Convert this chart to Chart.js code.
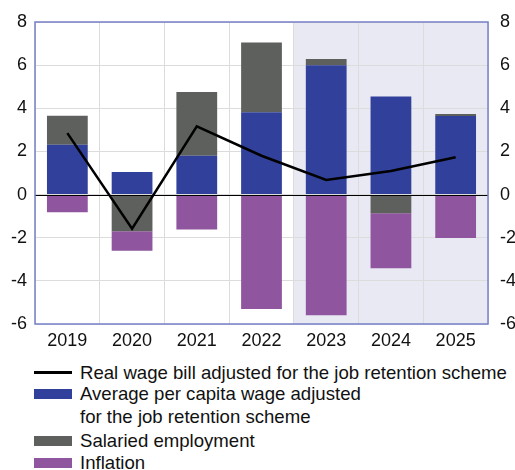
<!DOCTYPE html>
<html>
<head>
<meta charset="utf-8">
<script src="https://cdn.jsdelivr.net/npm/chart.js@4"></script>
<style>
  body { margin: 0; background: #fff; font-family: "Liberation Sans", Arial, sans-serif; }
  #wrap { position: relative; width: 515px; height: 470px; }
  #c { position: absolute; left: 0; top: 0; }
  .leg { position: absolute; left: 0; font-size: 18.6px; color: #111; line-height: 23px; }
  .sw { position: absolute; left: 34px; width: 38px; }
  .tx { position: absolute; left: 80px; white-space: nowrap; }
</style>
</head>
<body>
<div id="wrap">
  <canvas id="c" width="515" height="352"></canvas>
  <div id="legend"></div>
</div>
<script>
let years = ['2019', '2020', '2021', '2022', '2023', '2024', '2025']
let wage_bill = [2.85, -1.58, 3.16, 1.8, 0.68, 1.09, 1.73]
let per_capita = [2.31, 1.05, 1.8, 3.82, 6.0, 4.55, 3.64]
let employment = [1.34, -1.7, 2.95, 3.23, 0.29, -0.87, 0.09]
let inflation = [-0.82, -0.9, -1.62, -5.3, -5.59, -2.54, -2.01]
let y_ticks = [-6, -4, -2, 0, 2, 4, 6, 8]

const blue = '#31409a'
const gray = '#5e605d'
const purple = '#8f559e'
const frame = '#7580c8'

// legend drawn in html because one label wraps on two lines
const legendItems = [
    { label: 'Real wage bill adjusted for the job retention scheme', color: '#000', line: true, y: 361 },
    { label: 'Average per capita wage adjusted<br>for the job retention scheme', color: blue, y: 382 },
    { label: 'Salaried employment', color: gray, y: 429 },
    { label: 'Inflation', color: purple, y: 451 }
]
let html = ''
legendItems.forEach(function (it) {
    let h = it.line ? 3 : 10
    html += '<div class="leg" style="top:' + it.y + 'px">' +
        '<div class="sw" style="top:' + (11.5 - h / 2) + 'px;height:' + h + 'px;background:' + it.color + '"></div>' +
        '<div class="tx">' + it.label + '</div></div>'
})
document.getElementById('legend').innerHTML = html

const shade = {
    id: 'shade',
    beforeDraw(chart) {
        const ctx = chart.ctx
        const a = chart.chartArea
        const x0 = chart.scales.x.getPixelForValue(3.5)
        ctx.save()
        ctx.fillStyle = '#e9e9f3'
        ctx.fillRect(x0, a.top, a.right - x0, a.bottom - a.top)
        ctx.restore()
    },
    afterDatasetsDraw(chart) {
        const ctx = chart.ctx
        const a = chart.chartArea
        const y0 = chart.scales.y.getPixelForValue(0)
        ctx.save()
        ctx.strokeStyle = '#000'
        ctx.lineWidth = 1
        ctx.beginPath()
        ctx.moveTo(a.left, Math.round(y0) + 0.5)
        ctx.lineTo(a.right, Math.round(y0) + 0.5)
        ctx.stroke()
        ctx.strokeStyle = frame
        ctx.lineWidth = 1.5
        ctx.strokeRect(a.left, a.top, a.right - a.left, a.bottom - a.top)
        ctx.restore()
    }
}

const tickFont = { family: '"Liberation Sans", Arial, sans-serif', size: 18 }

new Chart(document.getElementById('c').getContext('2d'), {
    type: 'bar',
    data: {
        labels: years,
        datasets: [{
            type: 'line',
            label: 'Real wage bill adjusted for the job retention scheme',
            data: wage_bill,
            borderColor: '#000',
            borderWidth: 2.5,
            pointRadius: 0,
            stack: 'line',
            order: 0
        }, {
            label: 'Average per capita wage adjusted for the job retention scheme',
            data: per_capita,
            backgroundColor: blue,
            stack: 'bars',
            order: 1
        }, {
            label: 'Salaried employment',
            data: employment,
            backgroundColor: gray,
            stack: 'bars',
            order: 1
        }, {
            label: 'Inflation',
            data: inflation,
            backgroundColor: purple,
            stack: 'bars',
            order: 1
        }]
    },
    options: {
        responsive: false,
        animation: false,
        layout: { padding: { top: 22, right: 0, bottom: 0, left: 0 } },
        datasets: { bar: { categoryPercentage: 1, barPercentage: 0.63 } },
        plugins: { legend: { display: false }, tooltip: { enabled: false } },
        scales: {
            x: {
                stacked: true,
                grid: { color: '#dcdcdc', drawTicks: false },
                border: { display: false },
                ticks: { color: '#111', font: tickFont, padding: 6 },
                afterFit(s) { s.height = 28 }
            },
            y: {
                stacked: true,
                min: -6, max: 8,
                afterBuildTicks(s) { s.ticks = y_ticks.map(v => ({ value: v })) },
                grid: { color: '#dcdcdc', drawTicks: false },
                border: { display: false },
                ticks: { color: '#111', font: tickFont, padding: 8 },
                afterFit(s) { s.width = 35 }
            },
            y2: {
                position: 'right',
                min: -6, max: 8,
                afterBuildTicks(s) { s.ticks = y_ticks.map(v => ({ value: v })) },
                grid: { display: false },
                border: { display: false },
                ticks: { color: '#111', font: tickFont, padding: 4 },
                afterFit(s) { s.width = 27 }
            }
        }
    },
    plugins: [shade]
})
</script>
</body>
</html>
